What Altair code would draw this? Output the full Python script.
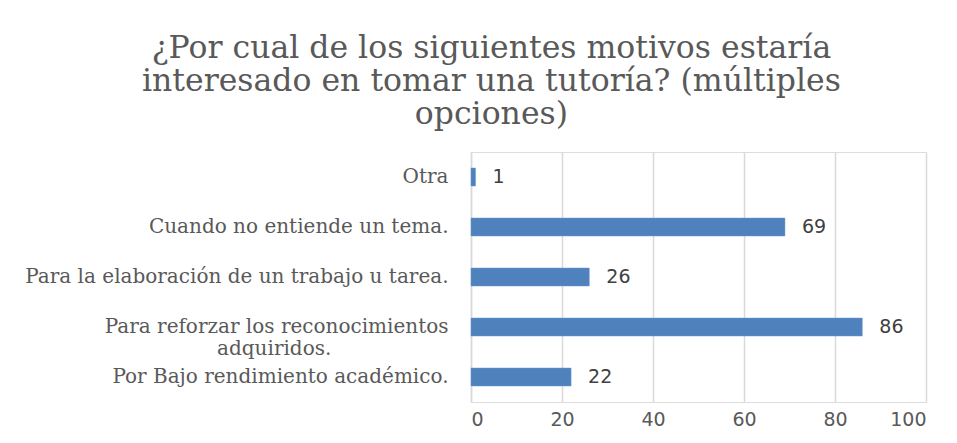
import altair as alt
import pandas as pd

categories = [
    "Otra",
    "Cuando no entiende un tema.",
    "Para la elaboración de un trabajo u tarea.",
    "Para reforzar los reconocimientos|adquiridos." + "\u2800" * 8,
    "Por Bajo rendimiento académico.",
]
values = [1, 69, 26, 86, 22]
x_ticks = [0, 20, 40, 60, 80, 100]
title_lines = [
    "¿Por cual de los siguientes motivos estaría",
    "interesado en tomar una tutoría? (múltiples",
    "opciones)",
]

df = pd.DataFrame({"motivo": categories, "n": values})

base = alt.Chart(df).encode(
    y=alt.Y(
        "motivo:N",
        sort=categories,
        title=None,
        scale=alt.Scale(paddingInner=0.64, paddingOuter=0.32),
        axis=alt.Axis(
            labelExpr="split(datum.value, '|')",
            labelFont="DejaVu Serif",
            labelFontSize=20,
            labelColor="#595959",
            labelPadding=23,
            labelLineHeight=22,
            ticks=False,
            domain=True,
            domainColor="#d9d9d9",
            domainWidth=1.5,
            labelLimit=0,
        ),
    ),
    x=alt.X(
        "n:Q",
        title=None,
        scale=alt.Scale(domain=[0, 100], nice=False),
        axis=alt.Axis(
            values=x_ticks,
            labelFont="DejaVu Sans",
            labelFontSize=19,
            labelColor="#595959",
            ticks=False,
            domain=False,
            grid=True,
            gridColor="#d9d9d9",
            gridWidth=1.5,
            labelPadding=8,
        ),
    ),
)

bars = base.mark_bar(color="#4F81BD", stroke="#6d9bd1", strokeWidth=0.5)
labels = base.mark_text(
    align="left", dx=17, font="DejaVu Sans", fontSize=19, color="#404040"
).encode(text="n:Q")

chart = (
    (bars + labels)
    .properties(
        width=455,
        height=250,
        title=alt.TitleParams(
            text=title_lines,
            font="DejaVu Serif",
            fontSize=31.5,
            fontWeight="normal",
            color="#595959",
            lineHeight=33,
            anchor="middle",
            offset=22,
            dx=16,
            frame="bounds",
        ),
        padding={"left": 16, "top": 24, "right": 10, "bottom": 4},
    )
    .configure_view(stroke="transparent", strokeWidth=0)
    .configure(background="white")
)

chart.save("out.html", embed_options={"renderer": "svg", "actions": False})
